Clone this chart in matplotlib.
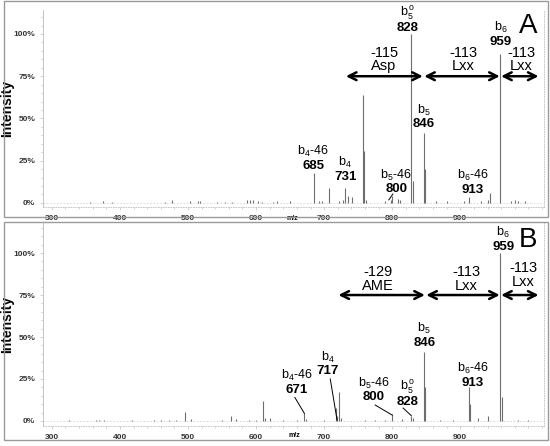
import matplotlib
matplotlib.use("Agg")
import matplotlib.pyplot as plt
from matplotlib.patches import Rectangle
from matplotlib.ticker import MultipleLocator, FuncFormatter

plt.rcParams['font.family'] = ['Liberation Sans', 'DejaVu Sans']
plt.rcParams['mathtext.fontset'] = 'custom'
plt.rcParams['mathtext.rm'] = 'Liberation Sans'
plt.rcParams['mathtext.it'] = 'Liberation Sans'

# spectrum A : m/z and relative intensity (%)
mz_a = [356, 375, 388, 466, 477, 503, 515, 518, 543, 554, 565, 587, 591, 596, 603,
        609, 625, 631, 650, 685, 692, 697, 707, 722, 727, 731, 735, 741, 757, 759,
        762, 790, 798, 800, 808, 812, 828, 830, 846, 848, 865, 880, 905, 913, 930,
        940, 943, 959, 975, 980, 985, 995]
int_a = [0.5, 1.2, 0.5, 0.8, 1.5, 1.2, 1.0, 1.0, 0.8, 0.8, 0.6, 1.5, 1.8, 2.0, 1.2,
         0.8, 0.8, 1.0, 1.0, 17.5, 1.0, 1.0, 9.0, 1.0, 2.0, 9.0, 4.0, 3.5, 64.0, 31.0,
         2.0, 1.0, 1.5, 4.0, 2.5, 1.5, 100.0, 13.0, 41.5, 20.0, 1.0, 1.0, 1.0, 3.5, 1.0,
         2.0, 6.0, 88.0, 1.0, 1.5, 1.0, 1.0]

# spectrum B
mz_b = [325, 365, 370, 376, 418, 450, 460, 472, 483, 496, 505, 550, 563, 570, 590,
        600, 610, 613, 620, 640, 660, 671, 674, 700, 717, 719, 722, 725, 760, 775,
        790, 800, 815, 828, 831, 846, 848, 870, 890, 913, 915, 926, 940, 959, 961,
        985, 1000]
int_b = [0.3, 0.5, 0.6, 0.4, 0.4, 0.5, 0.4, 0.5, 0.4, 5.5, 1.0, 0.5, 3.0, 1.2, 0.6,
         0.6, 12.0, 1.5, 1.5, 0.5, 0.5, 5.0, 1.0, 0.5, 8.0, 3.0, 17.0, 2.0, 0.6, 0.6,
         0.7, 4.0, 1.0, 3.0, 1.5, 41.0, 20.0, 0.8, 0.6, 20.0, 10.0, 2.0, 3.0, 100.0, 14.0,
         0.8, 0.5]

x_ticks = [300, 400, 500, 600, 700, 800, 900]
y_ticks = [0, 25, 50, 75, 100]

W, H = 550, 446
fig = plt.figure(figsize=(W / 100, H / 100), dpi=100)


def px_axes(x0, y0, x1, y1):
    return fig.add_axes([x0 / W, 1 - y1 / H, (x1 - x0) / W, (y1 - y0) / H])


def style(ax, ylim):
    ax.set_xlim(287, 1023)
    ax.set_ylim(*ylim)
    ax.set_xticks(x_ticks)
    ax.set_yticks(y_ticks)
    ax.yaxis.set_major_formatter(FuncFormatter(lambda v, p: '%d%%' % v))
    ax.xaxis.set_minor_locator(MultipleLocator(20))
    ax.yaxis.set_minor_locator(MultipleLocator(5))
    ax.spines['top'].set_visible(False)
    for s in ['left', 'bottom', 'right']:
        ax.spines[s].set_color('#bdbdbd')
        ax.spines[s].set_linewidth(0.6)
    ax.spines['right'].set_linestyle((0, (1, 2)))
    ax.spines['bottom'].set_linestyle((0, (1, 2)))
    ax.tick_params(which='both', color='#c0c0c0', width=0.5)
    ax.tick_params(which='major', length=2.5, labelsize=6, pad=3, labelcolor='#333333')
    ax.tick_params(which='minor', length=1.5)
    for t in ax.get_xticklabels() + ax.get_yticklabels():
        t.set_fontweight('bold')
    ax.set_ylabel('Intensity', fontsize=10, fontweight='bold')
    ax.yaxis.set_label_coords(-0.058, 0.5)
    ax.axhline(0, color='#d5d5d5', lw=0.6, ls=(0, (2, 2)), zorder=0)


def spectrum(ax, mz, inten):
    ax.vlines(mz, 0, inten, color='#6e6e6e', lw=0.8)


def lbl(ax, x, y, name, val):
    ax.text(x, y, name, ha='center', va='center', fontsize=9)
    ax.text(x, y - 8.5, val, ha='center', va='center', fontsize=9.5, fontweight='bold')


def arrow(ax, x0, x1, y):
    ax.annotate('', xy=(x0, y), xytext=(x1, y),
                arrowprops=dict(arrowstyle='<->', lw=1.8, color='black',
                                mutation_scale=14, shrinkA=0, shrinkB=0))


# ---- panel A ----
ax1 = px_axes(43, 10, 544, 207)
style(ax1, (-2.4, 114.2))
spectrum(ax1, mz_a, int_a)
lbl(ax1, 822, 112, 'b$_5^{\\,o}$', '828')
lbl(ax1, 959, 104, 'b$_6$', '959')
lbl(ax1, 846, 55, 'b$_5$', '846')
lbl(ax1, 684, 30.5, 'b$_4$-46', '685')
lbl(ax1, 731, 24, 'b$_4$', '731')
lbl(ax1, 806, 16.5, 'b$_5$-46', '800')
lbl(ax1, 918, 16, 'b$_6$-46', '913')
ax1.plot([801, 795], [5.3, 1.8], color='black', lw=0.7)
for x, t1, t2 in [(788, '-115', 'Asp'), (904, '-113', 'Lxx'), (990, '-113', 'Lxx')]:
    ax1.text(x, 89, t1, ha='center', va='center', fontsize=10.5)
    ax1.text(x, 81, t2, ha='center', va='center', fontsize=10.5)
arrow(ax1, 732, 845, 75)
arrow(ax1, 847, 958, 75)
arrow(ax1, 960, 1015, 75)
ax1.text(1000, 105, 'A', ha='center', va='center', fontsize=20)
ax1.text(653, -0.056, 'm/z', transform=ax1.get_xaxis_transform(), fontsize=5,
         ha='center', va='center', fontweight='bold')

# ---- panel B ----
ax2 = px_axes(43, 223, 544, 426)
style(ax2, (-3.0, 117.9))
spectrum(ax2, mz_b, int_b)
lbl(ax2, 963, 112, 'b$_6$', '959')
lbl(ax2, 847, 55, 'b$_5$', '846')
lbl(ax2, 705, 38, 'b$_4$', '717')
lbl(ax2, 660, 27, 'b$_4$-46', '671')
lbl(ax2, 773, 22.6, 'b$_5$-46', '800')
lbl(ax2, 822, 20, 'b$_5^{\\,o}$', '828')
lbl(ax2, 918, 31, 'b$_6$-46', '913')
for xs, ys in [([709, 719], [25, 0.6]), ([657, 671], [14, 4.5]),
               ([775, 800], [9.5, 3.5]), ([816, 828], [7.7, 3.2])]:
    ax2.plot(xs, ys, color='black', lw=0.7)
for x, y, t1, t2 in [(779, 89, '-129', 'AME'), (909, 89, '-113', 'Lxx'),
                     (993, 91, '-113', 'Lxx')]:
    ax2.text(x, y, t1, ha='center', va='center', fontsize=10.5)
    ax2.text(x, y - 8.5, t2, ha='center', va='center', fontsize=10.5)
arrow(ax2, 721, 848, 75)
arrow(ax2, 850, 958, 75)
arrow(ax2, 960, 1015, 75)
ax2.text(1000, 108, 'B', ha='center', va='center', fontsize=20)
ax2.text(657, -0.049, 'm/z', transform=ax2.get_xaxis_transform(), fontsize=5,
         ha='center', va='center', fontweight='bold')

# panel frames
for y0, y1 in [(1, 217), (222, 440)]:
    fig.add_artist(Rectangle((4 / W, 1 - y1 / H), 544 / W, (y1 - y0) / H,
                             transform=fig.transFigure, fill=False,
                             edgecolor='#9a9a9a', lw=1))

fig.savefig('out.png', dpi=100)
